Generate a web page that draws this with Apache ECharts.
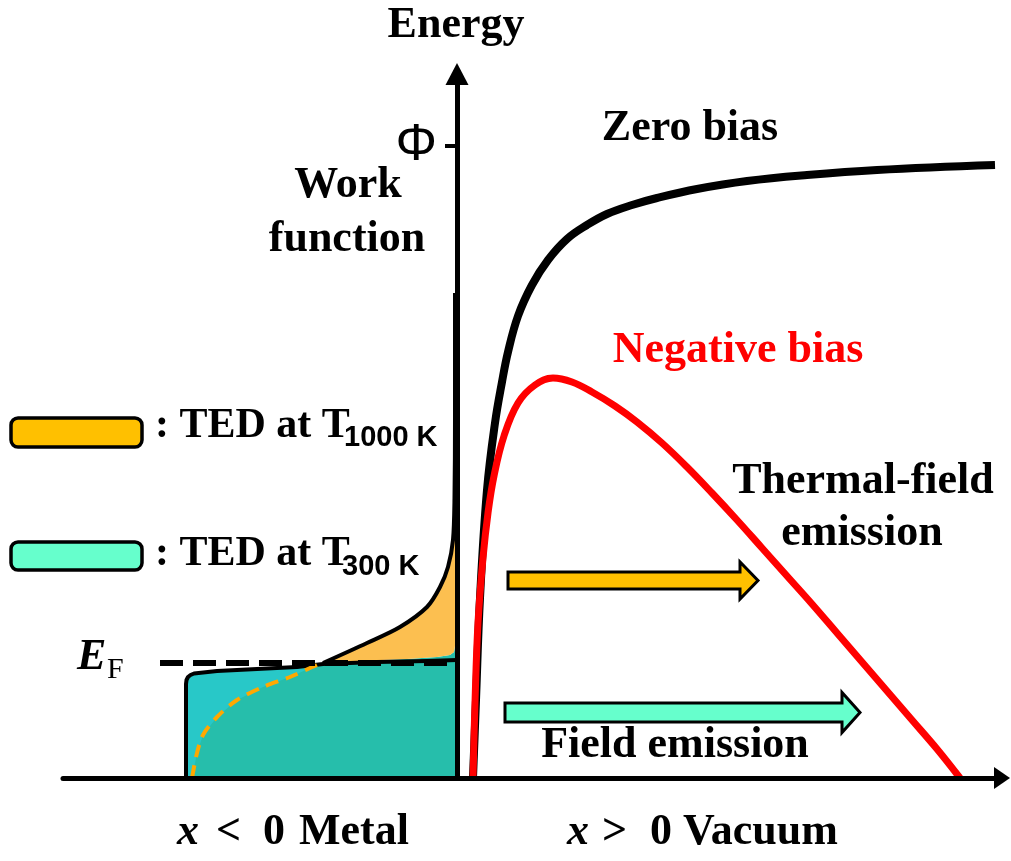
<!DOCTYPE html>
<html><head><meta charset="utf-8">
<script src="https://cdn.jsdelivr.net/npm/echarts@6/dist/echarts.min.js"></script>
<style>html,body{margin:0;padding:0;background:#fff}#c{width:1011px;height:861px}</style>
</head><body><div id="c"></div>
<script>
// ---------- data (x: position, arbitrary units; E: energy, arbitrary units) ----------
const phiLevel = [6.32];
const phiLabel = ['Φ'];
const fermiE = 1.15;
const fermiX = [-2.97, -0.02];

// Zero bias potential barrier
const zeroX = [0.16, 0.19, 0.23, 0.30, 0.38, 0.45, 0.51, 0.61, 0.75, 0.91, 1.10, 1.30, 1.50, 1.75, 2.00, 2.40, 2.90, 3.50, 4.20, 5.38];
const zeroE = [0.00, 0.78, 1.80, 2.88, 3.55, 3.96, 4.26, 4.62, 4.93, 5.18, 5.39, 5.53, 5.64, 5.73, 5.80, 5.89, 5.97, 6.03, 6.08, 6.13];

// Negative bias potential barrier
const negX = [0.16, 0.18, 0.21, 0.26, 0.31, 0.37, 0.47, 0.61, 0.78, 0.96, 1.15, 1.35, 1.58, 1.80, 2.05, 2.30, 2.55, 2.80, 3.05, 3.30, 3.55, 3.80, 4.05, 4.30, 4.55, 4.80, 5.03];
const negE = [0.00, 0.75, 1.55, 2.20, 2.65, 3.02, 3.42, 3.75, 3.93, 4.00, 3.96, 3.86, 3.72, 3.56, 3.35, 3.11, 2.85, 2.58, 2.30, 2.02, 1.74, 1.45, 1.16, 0.87, 0.58, 0.29, 0.00];

// TED at 300 K (outline, distribution drawn leftward from x = 0)
const ted300X = [-2.71, -2.71, -2.705, -2.69, -2.665, -2.63, -2.40, -2.00, -1.60, -1.34, -0.80, -0.30, 0.00];
const ted300E = [0.00, 0.94, 0.98, 1.01, 1.03, 1.045, 1.07, 1.09, 1.11, 1.14, 1.16, 1.17, 1.18];

// TED at 1000 K : part below E_F (dashed) and part above E_F (solid)
const ted1000LowX = [-2.65, -2.60, -2.54, -2.40, -2.20, -1.94, -1.67, -1.40, -1.34];
const ted1000LowE = [0.00, 0.25, 0.43, 0.61, 0.78, 0.91, 1.01, 1.13, 1.15];
const ted1000HighX = [-1.34, -0.90, -0.57, -0.30, -0.17, -0.09, -0.04, -0.025, -0.02, -0.02];
const ted1000HighE = [1.15, 1.35, 1.51, 1.71, 1.91, 2.11, 2.38, 2.80, 3.60, 4.85];
// lower edge of the 1000 K shaded part above E_F
const ted1000EdgeX = [-1.34, -1.00, -0.50, -0.20, -0.07, -0.03, -0.02];
const ted1000EdgeE = [1.15, 1.17, 1.19, 1.21, 1.23, 1.26, 1.32];

// Emission arrows: start x, tip x, energy level
const arrowStartX = [0.51, 0.48];
const arrowEndX = [3.01, 4.03];
const arrowE = [1.975, 0.655];

// ---------- styles ----------
const C_ORANGE = '#FFC000', C_MINT = '#66FFCC';
const C_CYAN = '#28C8C8', C_TEAL = '#26BEAB', C_ORANGE_FILL = '#FCBF50';
const SERIF = '"Liberation Serif", "Times New Roman", serif';
const SANS = '"Liberation Sans", Arial, sans-serif';
const FS = 44;
const arrowStyle = [
  {fill: C_ORANGE, shaftHalf: 8.5, headHalf: 18.5, headLen: 18},
  {fill: C_MINT, shaftHalf: 9.5, headHalf: 20, headLen: 18}
];

function pairs(xs, es) { return xs.map((x, i) => [x, es[i]]); }

function polySeries(xs, es, fill) {
  return {
    type: 'custom', coordinateSystem: 'cartesian2d', silent: true, clip: false, z: 2,
    data: [[xs[0], es[0]]],
    renderItem: function (params, api) {
      const pts = xs.map((x, i) => api.coord([x, es[i]]));
      return {type: 'polygon', shape: {points: pts}, style: {fill: fill, stroke: null}};
    }
  };
}
function lineSeries(xs, es, color, width, smooth, dash) {
  return {
    type: 'line', data: pairs(xs, es), symbol: 'none', showSymbol: false,
    smooth: smooth, silent: true, clip: false, z: 3,
    lineStyle: {color: color, width: width, type: dash || 'solid', cap: 'butt', join: 'round'}
  };
}
function txt(x, y, text, opts) {
  return {type: 'text', x: x, y: y, z: 100, style: Object.assign({
    text: text, fontSize: FS, fontWeight: 'bold', fontFamily: SERIF, fill: '#000',
    align: 'center', verticalAlign: 'middle'}, opts || {})};
}

const cyanX = ted300X.concat([0]);
const cyanE = ted300E.concat([0]);
const tealX = ted1000LowX.concat(ted1000EdgeX.slice(1), [0, 0]);
const tealE = ted1000LowE.concat(ted1000EdgeE.slice(1), [ted1000EdgeE[ted1000EdgeE.length - 1], 0]);
const orangeX = ted1000HighX.concat([0, 0], ted1000EdgeX.slice().reverse());
const orangeE = ted1000HighE.concat([ted1000HighE[ted1000HighE.length - 1], ted1000EdgeE[ted1000EdgeE.length - 1]], ted1000EdgeE.slice().reverse());

const arrowSeries = {
  type: 'custom', coordinateSystem: 'cartesian2d', silent: true, clip: false, z: 4,
  data: arrowStartX.map((x, i) => [x, arrowEndX[i], arrowE[i]]),
  encode: {x: [0, 1], y: 2},
  renderItem: function (params, api) {
    const s = api.coord([api.value(0), api.value(2)]);
    const e = api.coord([api.value(1), api.value(2)]);
    const st = arrowStyle[params.dataIndex];
    const y = s[1], hb = e[0] - st.headLen;
    return {
      type: 'polygon',
      shape: {points: [[s[0], y - st.shaftHalf], [hb, y - st.shaftHalf], [hb, y - st.headHalf], [e[0], y],
        [hb, y + st.headHalf], [hb, y + st.shaftHalf], [s[0], y + st.shaftHalf]]},
      style: {fill: st.fill, stroke: '#000', lineWidth: 3, lineJoin: 'miter'}
    };
  }
};

const chart = echarts.init(document.getElementById('c'));
chart.setOption({
  animation: false,
  backgroundColor: '#fff',
  grid: {left: 63, right: 9, top: 74, bottom: 83, containLabel: false},
  xAxis: {
    type: 'value', min: -3.94, max: 5.45, z: 20,
    axisLine: {show: true, onZero: true, symbol: ['none', 'triangle'], symbolSize: [22, 16],
      lineStyle: {color: '#000', width: 5}},
    axisTick: {show: false}, axisLabel: {show: false}, splitLine: {show: false}
  },
  yAxis: {
    type: 'value', min: 0, max: 7.04, z: 20, position: 'left', offset: -394,
    axisLine: {show: true, onZero: false, symbol: ['none', 'triangle'], symbolSize: [23, 22],
      lineStyle: {color: '#000', width: 5}},
    axisTick: {show: true, customValues: phiLevel, length: 12, lineStyle: {color: '#000', width: 4}},
    axisLabel: {show: true, customValues: phiLevel, formatter: (v) => phiLabel[phiLevel.indexOf(v)] || 'Φ',
      fontSize: 52, fontFamily: SANS, color: '#000', margin: 20},
    splitLine: {show: false}
  },
  series: [
    polySeries(cyanX, cyanE, C_CYAN),
    polySeries(tealX, tealE, C_TEAL),
    polySeries(orangeX, orangeE, C_ORANGE_FILL),
    lineSeries(ted300X, ted300E, '#000', 4, false),
    lineSeries(ted1000LowX, ted1000LowE, '#FFA800', 4, 0.3, [13, 8]),
    lineSeries(ted1000HighX, ted1000HighE, '#000', 4, 0.3),
    lineSeries(fermiX, [fermiE, fermiE], '#000', 6, false, [23, 10]),
    arrowSeries,
    lineSeries(zeroX, zeroE, '#000', 8, 0.4),
    lineSeries(negX, negE, '#FF0000', 7, 0.4)
  ],
  graphic: [
    txt(456, 26, 'Energy'),
    txt(690, 129, 'Zero bias'),
    txt(348, 186, 'Work'),
    txt(347, 240, 'function'),
    txt(738, 351, 'Negative bias', {fill: '#FF0000'}),
    txt(863, 482, 'Thermal-field'),
    txt(862, 534, 'emission'),
    txt(675, 746, 'Field emission'),
    // x-axis region labels
    txt(177, 833, 'x', {fontStyle: 'italic', align: 'left'}),
    txt(216, 833, '<', {align: 'left'}),
    txt(263, 833, '0', {align: 'left'}),
    txt(299, 833, 'Metal', {align: 'left'}),
    txt(567, 833, 'x', {fontStyle: 'italic', align: 'left'}),
    txt(602, 833, '>', {align: 'left'}),
    txt(650, 833, '0', {align: 'left'}),
    txt(683, 833, 'Vacuum', {align: 'left'}),
    // legend
    {type: 'rect', z: 100, shape: {x: 11, y: 418, width: 131, height: 29, r: 7}, style: {fill: C_ORANGE, stroke: '#000', lineWidth: 3.5}},
    {type: 'rect', z: 100, shape: {x: 11, y: 542, width: 131, height: 28, r: 7}, style: {fill: C_MINT, stroke: '#000', lineWidth: 3.5}},
    txt(155, 426, ': TED at T', {fontSize: 42, align: 'left'}),
    txt(344, 438, '1000 K', {fontSize: 29, fontFamily: SANS, align: 'left'}),
    txt(155, 554, ': TED at T', {fontSize: 42, align: 'left'}),
    txt(342, 567, '300 K', {fontSize: 29, fontFamily: SANS, align: 'left'}),
    // E_F
    txt(77, 658, 'E', {fontStyle: 'italic', align: 'left'}),
    txt(107, 670, 'F', {fontSize: 30, fontWeight: 'normal', align: 'left'})
  ]
});
</script>
</body></html>
